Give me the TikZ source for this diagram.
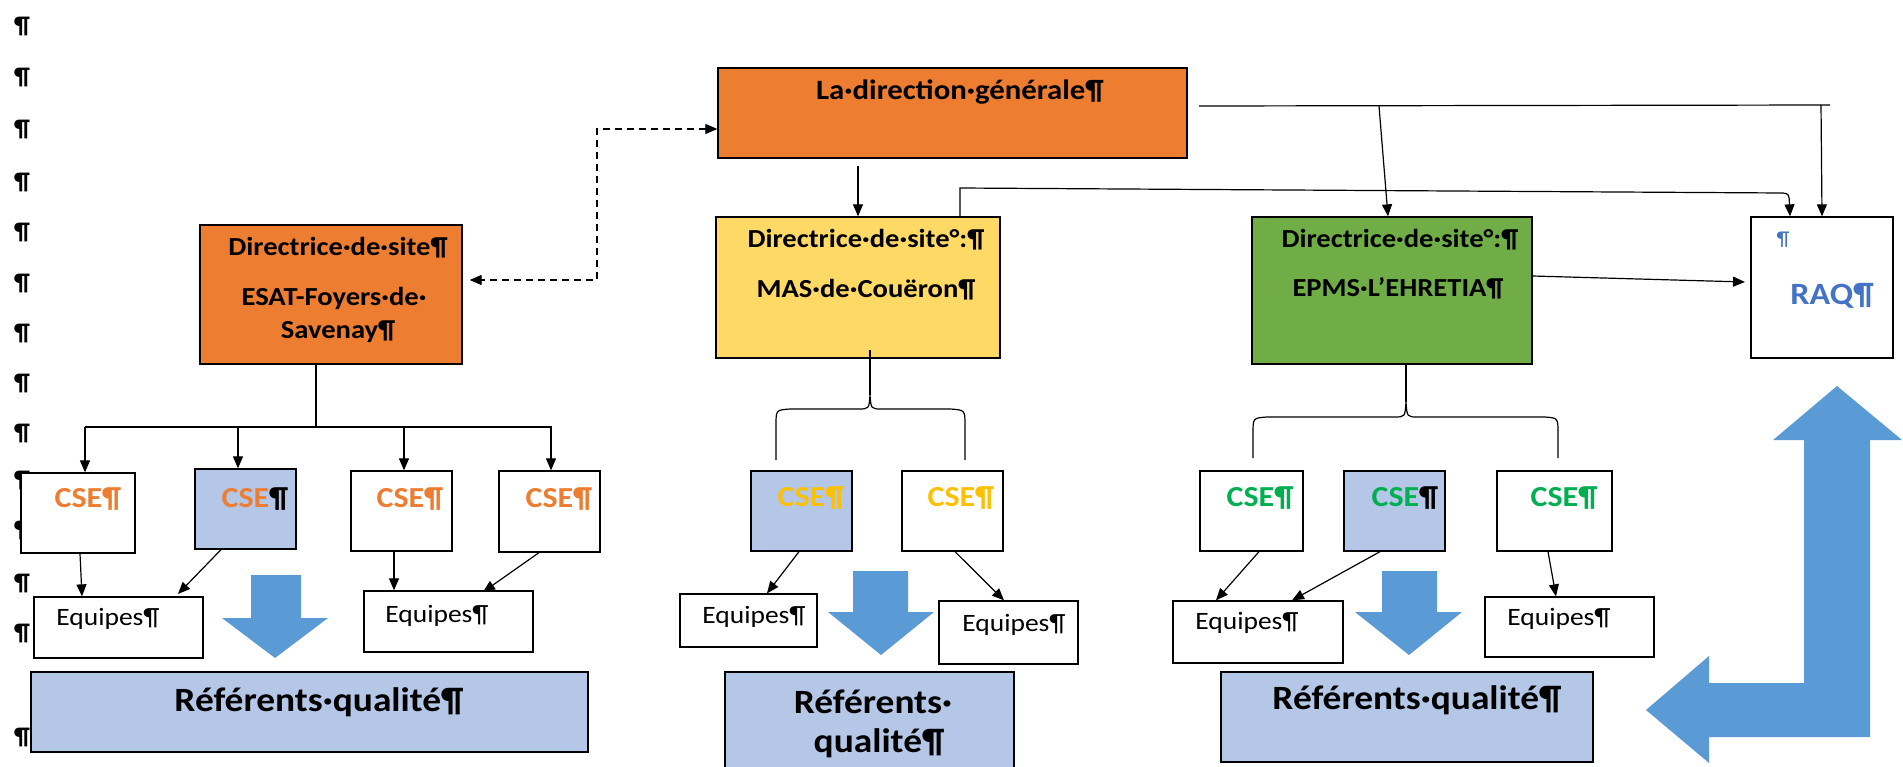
\documentclass[tikz,border=0pt]{standalone}
\usepackage{fontspec}
\setmainfont{Carlito}[FakeStretch=1.1]
\usetikzlibrary{arrows.meta}
\definecolor{orng}{HTML}{ED7D31}
\definecolor{yell}{HTML}{FFD966}
\definecolor{yelltxt}{HTML}{FFC000}
\definecolor{grn}{HTML}{70AD47}
\definecolor{grntxt}{HTML}{00B050}
\definecolor{lblue}{HTML}{B4C7E7}
\definecolor{bigarr}{HTML}{5B9BD5}
\definecolor{raqtxt}{HTML}{4472C4}
\begin{document}
\begin{tikzpicture}[x=1pt,y=-1pt,
  box/.style={draw=black, line width=1.3pt, inner sep=0pt, rectangle},
  arr/.style={-{Triangle[length=12pt,width=10pt]}, line width=1.2pt},
  ln/.style={line width=1.2pt},
  btxt/.style={inner sep=0pt, font=\bfseries\fontsize{26}{30}\selectfont},
  ctxt/.style={inner sep=0pt, font=\bfseries\fontsize{29}{32}\selectfont},
  etxt/.style={inner sep=0pt, font=\fontsize{25}{30}\selectfont},
  rtxt/.style={inner sep=0pt, font=\bfseries\fontsize{31}{36}\selectfont},
  qtxt/.style={inner sep=0pt, font=\bfseries\fontsize{34}{38}\selectfont},
  pil/.style={inner sep=0pt, font=\bfseries\fontsize{24}{28}\selectfont},
  bigar/.style={fill=bigarr, draw=none}]
\useasboundingbox (0,0) rectangle (1903,766);
\clip (0,0) rectangle (1903,766);
% left pilcrow column
\foreach \yy [count=\i] in {27,78,130,182,232,283,333,383,433,480,530,583,633,737}
  \node[pil] (p\i) at (22,\yy) {¶};
% top boxes
\node[box, fill=orng, minimum width=469pt, minimum height=90pt] (dg) at (952.5,113) {};
\node[btxt, font=\bfseries\fontsize{28}{30}\selectfont] (dgt) at (960,92) {La·direction·générale¶};
\node[box, fill=orng, minimum width=262pt, minimum height=139pt] (esat) at (331,294.5) {};
\node[btxt] (esat1) at (338,248) {Directrice·de·site¶};
\node[btxt] (esat2) at (334,298) {ESAT-Foyers·de·};
\node[btxt] (esat3) at (338,332) {Savenay¶};
\node[box, fill=yell, minimum width=284pt, minimum height=141pt] (mas) at (858,287.5) {};
\node[btxt] (mas1) at (866,240) {Directrice·de·site°:¶};
\node[btxt] (mas2) at (866,290) {MAS·de·Couëron¶};
\node[box, fill=grn, minimum width=280pt, minimum height=147pt] (epms) at (1392,290.5) {};
\node[btxt] (epms1) at (1400,240) {Directrice·de·site°:¶};
\node[btxt] (epms2) at (1398,288) {EPMS·L’EHRETIA¶};
\node[box, fill=white, minimum width=142pt, minimum height=141pt] (raq) at (1822,287.5) {};
\node[inner sep=0pt, text=raqtxt, font=\fontsize{20}{24}\selectfont] (raqp) at (1783,240) {¶};
\node[rtxt, text=raqtxt] (raqt) at (1832,296) {RAQ¶};
% top connectors
\coordinate (dgR) at (1199,106);
\coordinate (topR) at (1830,105);
\coordinate (topE) at (1379,106);
\coordinate (topQ) at (1821,105);
\draw[ln] (dgR) -- (topR);
\draw[arr] (topE) -- ([xshift=-4pt]epms.north);
\draw[arr] (topQ) -- (raq.north);
\draw[arr] ([yshift=-7pt]dg.south -| mas.north) -- (mas.north);
\coordinate (masU) at (960,188);
\coordinate (raqK) at (1783,193);
\draw[arr] (mas.north -| masU) -- (masU) -- (raqK) .. controls (1789,194) .. (raq.north west -| 1790,0);
\draw[arr] (epms.east |- 0,276) -- (1745,282) coordinate (raqL);
\coordinate (dsh1) at (597,129);
\coordinate (dsh2) at (597,280);
\draw[{Triangle[length=12pt,width=10pt]}-{Triangle[length=12pt,width=10pt]}, line width=1.2pt, dash pattern=on 7pt off 5pt]
  (dg.west |- dsh1) -- (dsh1) -- (dsh2) -- ([xshift=7pt]esat.east |- dsh2);
% ESAT tree
\coordinate (ej) at (316,427);
\draw[ln] (esat.south -| ej) -- (ej);
\draw[ln] (85,427) -- (552,427);
\node[box, fill=white, minimum width=114pt, minimum height=80pt] (cl1) at (78,513) {};
\node[box, fill=lblue, minimum width=101pt, minimum height=80pt] (cl2) at (245.5,509) {};
\node[box, fill=white, minimum width=101pt, minimum height=80pt] (cl3) at (401.5,511) {};
\node[box, fill=white, minimum width=101pt, minimum height=81pt] (cl4) at (549.5,511.5) {};
\draw[arr] (85,427) -- (cl1.north -| 85,0);
\draw[arr] (238,427) -- (cl2.north -| 238,0);
\draw[arr] (404,427) -- (cl3.north -| 404,0);
\draw[arr] (551,427) -- (cl4.north -| 551,0);
\node[ctxt, text=orng] (cl1t) at (88,499) {CSE¶};
\node[ctxt] (cl2t) at (255,499) {\textcolor{orng}{CSE}¶};
\node[ctxt, text=orng] (cl3t) at (410,499) {CSE¶};
\node[ctxt, text=orng] (cl4t) at (559,499) {CSE¶};
\node[box, fill=white, minimum width=169pt, minimum height=61pt] (el1) at (118.5,627.5) {};
\node[box, fill=white, minimum width=169pt, minimum height=61pt] (el2) at (448.5,621.5) {};
\node[etxt] (el1t) at (108,619) {Equipes¶};
\node[etxt] (el2t) at (437,616) {Equipes¶};
\draw[arr] (cl1.south -| 80,0) -- (el1.north -| 82,0);
\draw[arr] (cl2.south -| 221,0) -- (178,594);
\draw[arr] (cl3.south -| 394,0) -- (el2.north -| 394,0);
\draw[arr] (cl4.south -| 539,0) -- (483,592);
\fill[bigar] (251,575) -- (301,575) -- (301,618) -- (328,618) -- (275,658) -- (222,618) -- (251,618) -- cycle;
\node[box, fill=lblue, minimum width=557pt, minimum height=80pt] (rl) at (309.5,712) {};
\node[qtxt] (rlt) at (319,702) {Référents·qualité¶};
% MAS tree
\draw[ln] (870,350) -- (870,395);
\draw[ln] (776,460) -- (776,425) .. controls (776,410) .. (790,409) -- (858,409) .. controls (869,409) .. (870,395)
  .. controls (871,409) .. (882,409) -- (950,409) .. controls (965,410) .. (965,425) -- (965,460);
\node[box, fill=lblue, minimum width=101pt, minimum height=80pt] (cm1) at (801.5,511) {};
\node[box, fill=white, minimum width=101pt, minimum height=80pt] (cm2) at (952.5,511) {};
\node[ctxt, text=yelltxt] (cm1t) at (811,498) {CSE¶};
\node[ctxt, text=yelltxt] (cm2t) at (961,498) {CSE¶};
\node[box, fill=white, minimum width=137pt, minimum height=53pt] (em1) at (748.5,620.5) {};
\node[box, fill=white, minimum width=139pt, minimum height=63pt] (em2) at (1008.5,632.5) {};
\node[etxt] (em1t) at (754,617) {Equipes¶};
\node[etxt] (em2t) at (1014,625) {Equipes¶};
\draw[arr] (cm1.south -| 799,0) -- (em1.north -| 767,0);
\draw[arr] (cm2.south -| 955,0) -- (em2.north -| 1004,0);
\fill[bigar] (853,571) -- (908,571) -- (908,612) -- (934,612) -- (881,655) -- (828,612) -- (853,612) -- cycle;
\node[box, fill=lblue, minimum width=289pt, minimum height=100pt] (rm) at (869.5,722) {};
\node[qtxt] (rmt1) at (873,702) {Référents·};
\node[qtxt] (rmt2) at (879,743) {qualité¶};
% EPMS tree
\draw[ln] (1406,364) -- (1406,402);
\draw[ln] (1253,458) -- (1253,433) .. controls (1253,418) .. (1267,417) -- (1394,417) .. controls (1405,417) .. (1406,402)
  .. controls (1407,417) .. (1418,417) -- (1545,417) .. controls (1558,418) .. (1558,433) -- (1558,458);
\node[box, fill=white, minimum width=103pt, minimum height=80pt] (cg1) at (1251.5,511) {};
\node[box, fill=lblue, minimum width=101pt, minimum height=80pt] (cg2) at (1394.5,511) {};
\node[box, fill=white, minimum width=115pt, minimum height=80pt] (cg3) at (1554.5,511) {};
\node[ctxt, text=grntxt] (cg1t) at (1260,498) {CSE¶};
\node[ctxt] (cg2t) at (1405,498) {\textcolor{grntxt}{CSE}¶};
\node[ctxt, text=grntxt] (cg3t) at (1564,498) {CSE¶};
\node[box, fill=white, minimum width=170pt, minimum height=62pt] (eg1) at (1258,632) {};
\node[box, fill=white, minimum width=169pt, minimum height=60pt] (eg2) at (1569.5,627) {};
\node[etxt] (eg1t) at (1247,623) {Equipes¶};
\node[etxt] (eg2t) at (1559,619) {Equipes¶};
\draw[arr] (cg1.south -| 1259,0) -- (eg1.north -| 1216,0);
\draw[arr] (cg2.south -| 1380,0) -- (eg1.north -| 1292,0);
\draw[arr] (cg3.south -| 1548,0) -- (eg2.north -| 1556,0);
\fill[bigar] (1382,571) -- (1437,571) -- (1437,612) -- (1462,612) -- (1409,655) -- (1355,612) -- (1382,612) -- cycle;
\node[box, fill=lblue, minimum width=372pt, minimum height=90pt] (rg) at (1407,717) {};
\node[qtxt] (rgt) at (1417,700) {Référents·qualité¶};
% L-shaped arrow
\fill[bigar] (1837,386) -- (1902,440) -- (1870,440) -- (1870,737) -- (1709,737) -- (1709,763) -- (1646,710)
  -- (1709,656) -- (1709,683) -- (1804,683) -- (1804,440) -- (1773,440) -- cycle;
\end{tikzpicture}
\end{document}
